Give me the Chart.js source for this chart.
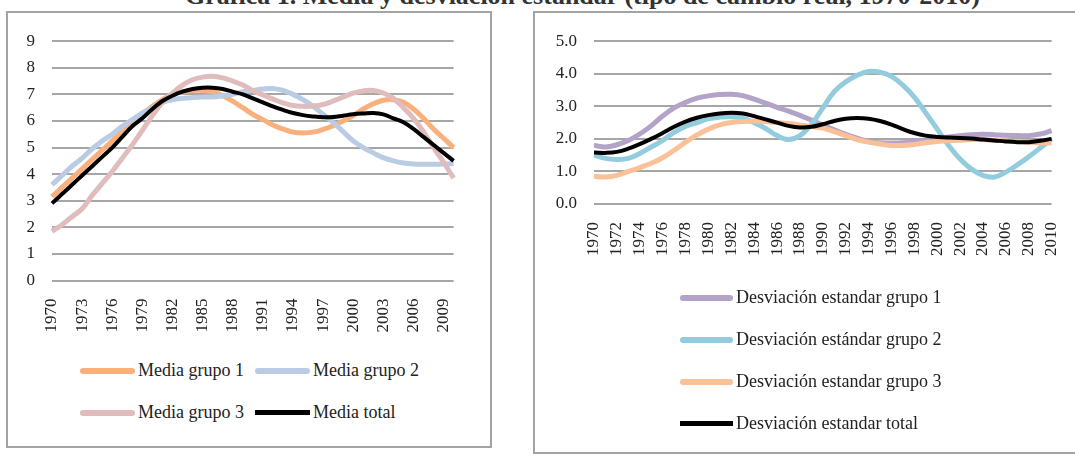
<!DOCTYPE html>
<html>
<head>
<meta charset="utf-8">
<script src="https://cdn.jsdelivr.net/npm/chart.js@4/dist/chart.umd.min.js"></script>
<style>
  body { margin: 0; background: #fff; width: 1075px; height: 456px; overflow: hidden; position: relative; font-family: "Liberation Serif", "Times New Roman", serif; color: #222; }
  .panel { position: absolute; border: 2px solid #a3a3a3; box-sizing: border-box; }
  canvas { position: absolute; }
  .title { position: absolute; left: 0; width: 1165px; top: -17px; text-align: center; font-weight: bold; font-size: 26px; line-height: 26px; white-space: nowrap; color: #333; }
  .item { position: absolute; font-size: 18px; line-height: 22px; white-space: nowrap; }
  .item i { display: inline-block; vertical-align: middle; margin-right: 3px; border-radius: 3px; position: relative; top: -1px; }
</style>
</head>
<body>
<div class="title">Gráfica 1. Media y desviación estándar (tipo de cambio real, 1970-2010)</div>
<div class="panel" style="left:6px;top:11px;width:486px;height:437px"></div>
<div class="panel" style="left:533px;top:11px;width:600px;height:443px"></div>
<canvas id="c1" width="475" height="330" style="left:9px;top:14px"></canvas>
<canvas id="c2" width="546" height="275" style="left:536px;top:14px"></canvas>
<div id="leg1"></div>
<div id="leg2"></div>
<script>
// years 1970-2010
const years = ['1970','1971','1972','1973','1974','1975','1976','1977','1978','1979',
  '1980','1981','1982','1983','1984','1985','1986','1987','1988','1989',
  '1990','1991','1992','1993','1994','1995','1996','1997','1998','1999',
  '2000','2001','2002','2003','2004','2005','2006','2007','2008','2009','2010'];

// left chart: medias
const mediaG1 = [3.15,3.5,3.85,4.2,4.55,4.9,5.25,5.6,5.95,6.25,6.55,6.8,7.0,7.1,7.15,7.15,7.1,6.95,6.75,6.5,
  6.25,6.05,5.85,5.7,5.58,5.55,5.58,5.68,5.82,6.0,6.2,6.45,6.65,6.78,6.8,6.7,6.45,6.1,5.7,5.35,5.0];
const mediaG2 = [3.6,3.95,4.3,4.6,4.95,5.25,5.5,5.8,6.05,6.3,6.5,6.7,6.8,6.85,6.88,6.9,6.9,6.95,7.0,7.1,
  7.15,7.2,7.22,7.15,7.0,6.8,6.55,6.25,5.95,5.6,5.25,5.0,4.8,4.62,4.5,4.42,4.38,4.37,4.37,4.38,4.4];
const mediaG3 = [1.85,2.1,2.4,2.7,3.2,3.65,4.1,4.6,5.1,5.65,6.2,6.7,7.05,7.35,7.55,7.65,7.68,7.62,7.5,7.35,
  7.15,6.98,6.82,6.68,6.58,6.55,6.56,6.62,6.75,6.9,7.05,7.13,7.15,7.05,6.85,6.5,6.1,5.6,5.0,4.45,3.85];
const mediaTotal = [2.9,3.25,3.6,3.95,4.3,4.65,5.0,5.4,5.8,6.1,6.45,6.75,6.95,7.1,7.2,7.25,7.25,7.2,7.1,7.0,
  6.85,6.7,6.55,6.42,6.3,6.22,6.17,6.14,6.15,6.2,6.25,6.28,6.3,6.25,6.1,5.95,5.7,5.4,5.1,4.8,4.5];

// right chart: desviaciones
const desvG1 = [1.8,1.75,1.82,1.95,2.15,2.4,2.7,2.95,3.12,3.25,3.32,3.36,3.37,3.33,3.22,3.1,2.97,2.85,2.72,2.58,
  2.42,2.28,2.14,2.02,1.92,1.88,1.87,1.88,1.92,1.97,2.02,2.06,2.1,2.13,2.14,2.13,2.11,2.1,2.1,2.15,2.25];
const desvG2 = [1.5,1.4,1.37,1.4,1.55,1.75,1.95,2.2,2.38,2.5,2.62,2.67,2.68,2.63,2.5,2.32,2.1,1.98,2.1,2.45,
  2.95,3.45,3.75,3.95,4.07,4.05,3.92,3.65,3.28,2.8,2.3,1.8,1.38,1.07,0.88,0.83,0.98,1.2,1.45,1.72,2.0];
const desvG3 = [0.85,0.83,0.88,1.0,1.12,1.25,1.42,1.65,1.9,2.12,2.3,2.43,2.5,2.53,2.55,2.53,2.5,2.47,2.43,2.38,
  2.33,2.22,2.1,1.98,1.9,1.84,1.8,1.8,1.83,1.88,1.92,1.94,1.96,1.98,1.98,1.96,1.94,1.92,1.9,1.88,1.87];
const desvTotal = [1.58,1.57,1.6,1.7,1.84,2.0,2.18,2.37,2.53,2.65,2.73,2.78,2.8,2.78,2.7,2.6,2.5,2.4,2.35,2.37,
  2.45,2.55,2.62,2.64,2.62,2.55,2.44,2.3,2.18,2.1,2.06,2.04,2.03,2.01,1.98,1.95,1.92,1.9,1.9,1.94,2.0];

const leftNames = ['Media grupo 1','Media grupo 2','Media grupo 3','Media total'];
const rightNames = ['Desviación estandar grupo 1','Desviación estándar grupo 2','Desviación estandar grupo 3','Desviación estandar total'];
const leftColors = ['#f9b07c','#b9cce4','#e0bcbc','#000000'];
const rightColors = ['#b3a3c8','#93cddd','#fac199','#000000'];

const serif = '"Liberation Serif", "Times New Roman", serif';

function makeSets(names, colors, series) {
  return series.map((d, i) => ({
    label: names[i],
    data: d,
    borderColor: colors[i],
    borderWidth: i === 3 ? 4 : 5,
    pointRadius: 0,
    tension: 0.4,
    fill: false,
    order: 3 - i
  }));
}

function makeChart(id, sets, opt) {
  return new Chart(document.getElementById(id), {
    type: 'line',
    data: { labels: years, datasets: sets },
    options: {
      responsive: false,
      animation: false,
      layout: { padding: { top: 25, right: opt.padRight, left: 0, bottom: 0 } },
      plugins: { legend: { display: false }, tooltip: { enabled: false } },
      scales: {
        x: {
          grid: { display: false },
          border: { display: false },
          afterFit: s => { s.height = opt.xHeight; },
          ticks: {
            autoSkip: false, minRotation: 90, maxRotation: 90, padding: 10,
            color: '#222', font: { family: serif, size: 17 },
            callback: (v, i) => i % opt.every === 0 ? years[i] : ''
          }
        },
        y: {
          min: 0, max: opt.max,
          afterFit: s => { s.width = opt.yWidth; },
          grid: { color: '#a6a6a6', lineWidth: 2, drawTicks: false },
          border: { display: false },
          ticks: {
            stepSize: 1, padding: 17, color: '#222', font: { family: serif, size: 17 },
            callback: v => opt.decimals ? v.toFixed(1) : v
          }
        }
      }
    }
  });
}

makeChart('c1', makeSets(leftNames, leftColors, [mediaG1, mediaG2, mediaG3, mediaTotal]),
  { padRight: 28, xHeight: 63.5, yWidth: 43, max: 9, every: 3, decimals: false });
makeChart('c2', makeSets(rightNames, rightColors, [desvG1, desvG2, desvG3, desvTotal]),
  { padRight: 4, xHeight: 85, yWidth: 58, max: 5, every: 2, decimals: true });

// legends
function legend(elId, names, colors, spots, swW) {
  const el = document.getElementById(elId);
  names.forEach((n, i) => {
    const d = document.createElement('div');
    d.className = 'item';
    d.style.left = spots[i][0] + 'px';
    d.style.top = (spots[i][1] - 11) + 'px';
    const sw = document.createElement('i');
    sw.style.width = swW + 'px';
    sw.style.height = (i === 3 ? 5 : 6) + 'px';
    sw.style.background = colors[i];
    if (i === 3) sw.style.borderRadius = '0';
    d.appendChild(sw);
    d.appendChild(document.createTextNode(n));
    el.appendChild(d);
  });
}
legend('leg1', leftNames, leftColors, [[80, 370], [255, 370], [80, 412], [255, 412]], 55);
legend('leg2', rightNames, rightColors, [[680, 297], [680, 339], [680, 381], [680, 423]], 53);
</script>
</body>
</html>
